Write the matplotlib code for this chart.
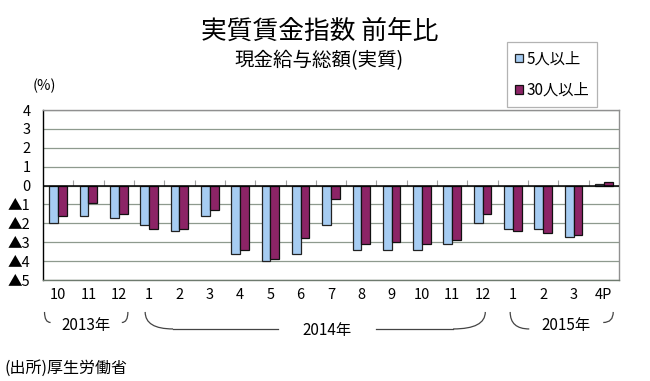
import matplotlib
matplotlib.use("Agg")
import matplotlib.pyplot as plt
import numpy as np
from matplotlib.path import Path
from matplotlib.patches import PathPatch, Patch
from matplotlib.transforms import blended_transform_factory

plt.rcParams['font.family'] = ['Noto Sans CJK JP', 'DejaVu Sans']

months = ["10", "11", "12", "1", "2", "3", "4", "5", "6", "7", "8", "9",
          "10", "11", "12", "1", "2", "3", "4P"]
s5 = [-2.0, -1.6, -1.7, -2.1, -2.4, -1.6, -3.6, -4.0, -3.6, -2.1, -3.4, -3.4,
      -3.4, -3.1, -2.0, -2.3, -2.3, -2.7, 0.1]
s30 = [-1.6, -0.9, -1.5, -2.3, -2.3, -1.3, -3.4, -3.9, -2.8, -0.7, -3.1, -3.0,
       -3.1, -2.9, -1.5, -2.4, -2.5, -2.6, 0.2]
series_names = ["5人以上", "30人以上"]
yticks = [4, 3, 2, 1, 0, -1, -2, -3, -4, -5]
ytick_labels = ["4", "3", "2", "1", "0", "▲1", "▲2", "▲3", "▲4", "▲5"]
years = ["2013年", "2014年", "2015年"]

c_blue = "#A6CCF2"
c_purple = "#8C2466"

fig = plt.figure(figsize=(6.5, 3.81), dpi=100)
ax = fig.add_axes([43/650, 1-280/381, (619-43)/650, 170/381])

x = np.arange(len(months))
w = 0.29
ax.bar(x - w/2, s5, width=w, color=c_blue, edgecolor="#222222", linewidth=0.9, zorder=3)
ax.bar(x + w/2, s30, width=w, color=c_purple, edgecolor="#111111", linewidth=0.9, zorder=3)

ax.set_xlim(-0.5, len(months) - 0.5)
ax.set_ylim(-5, 4)
ax.set_yticks(yticks)
ax.set_yticklabels(ytick_labels, fontsize=10.5)
ax.set_xticks(x)
ax.set_xticklabels(months, fontsize=10.5)
ax.tick_params(axis='x', length=0, pad=6)
ax.tick_params(axis='y', length=0, pad=9)

for yv in yticks:
    ax.axhline(yv, color="#8E9A8E", linewidth=0.9, zorder=1)
ax.axhline(0, color="black", linewidth=1.1, zorder=4)
# small separator ticks along the zero line
ax.vlines(x[1:] - 0.5, 0, 0.27, color="#A0A0A0", linewidth=0.8, zorder=2)

for name, sp in ax.spines.items():
    sp.set_color("#909090")
    sp.set_linewidth(1.0)
ax.spines['left'].set_color("black")
ax.spines['bottom'].set_color("#6E7A6E")

# year brackets
tr = blended_transform_factory(ax.transData, ax.transAxes)
y0, y1, y2 = -0.188, -0.288, -0.250
bracket_paths = [
    [(-0.45, y0), (-0.45, y2), (-0.25, y2)],
    [(2.3, y0), (2.3, y2), (2.1, y2)],
    [(2.87, y0), (2.87, y1), (3.79, y1)],
    [(13.03, y1), (14.09, y1), (14.09, y0)],
    [(14.91, y0), (14.91, y1), (15.54, y1)],
    [(18.31, y0), (18.31, y2), (17.98, y2)],
]
for pts in bracket_paths:
    p = Path(pts, [Path.MOVETO, Path.CURVE3, Path.CURVE3])
    ax.add_patch(PathPatch(p, fill=False, edgecolor="#444444", linewidth=0.9,
                           transform=tr, clip_on=False))
ax.plot([3.79, 7.26], [y1, y1], color="#444444", linewidth=0.9, transform=tr, clip_on=False)
ax.plot([10.49, 13.03], [y1, y1], color="#444444", linewidth=0.9, transform=tr, clip_on=False)

ax.text(0.92, -0.27, years[0], transform=tr, ha='center', va='center', fontsize=11)
ax.text(8.87, -0.30, years[1], transform=tr, ha='center', va='center', fontsize=11)
ax.text(16.76, -0.265, years[2], transform=tr, ha='center', va='center', fontsize=11)

fig.text(320/650, 1-32/381, "実質賃金指数 前年比", ha='center', va='center', fontsize=18.5)
fig.text(319/650, 1-61/381, "現金給与総額(実質)", ha='center', va='center', fontsize=14)
fig.text(44/650, 1-86/381, "(%)", ha='center', va='center', fontsize=10.5)
fig.text(5/650, 1-368/381, "(出所)厚生労働省", ha='left', va='center', fontsize=11.5)

handles = [Patch(facecolor=c_blue, edgecolor="#222222", linewidth=0.9),
           Patch(facecolor=c_purple, edgecolor="#111111", linewidth=0.9)]
leg = fig.legend(handles, series_names, loc='upper left',
                 bbox_to_anchor=(507/650, 1-42/381), fontsize=11,
                 frameon=True, fancybox=False, borderpad=0.55, labelspacing=0.95,
                 handlelength=0.5, handleheight=0.5, handletextpad=0.2,
                 borderaxespad=0)
leg.get_frame().set_edgecolor("#A0A0A0")
leg.get_frame().set_linewidth(0.9)

fig.savefig("out.png", dpi=100)
